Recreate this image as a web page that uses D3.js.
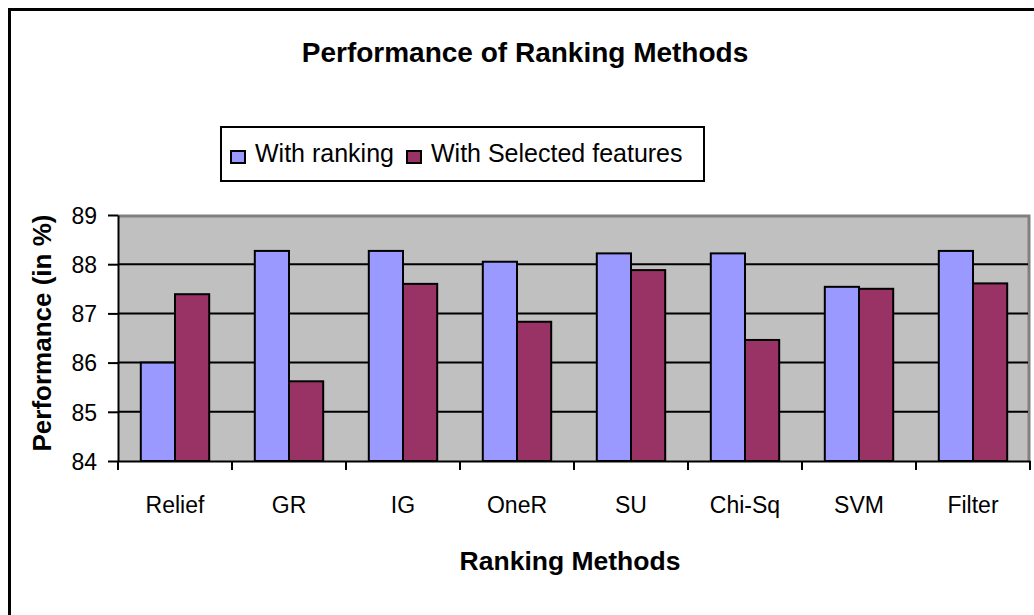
<!DOCTYPE html>
<html>
<head>
<meta charset="utf-8">
<script src="https://cdn.jsdelivr.net/npm/d3@7"></script>
<style>
body { margin: 0; background: #fff; }
text { font-family: Arial, "Liberation Sans", sans-serif; }
</style>
</head>
<body>
<div id="chart"></div>
<script>
// data
var methods = ['Relief', 'GR', 'IG', 'OneR', 'SU', 'Chi-Sq', 'SVM', 'Filter'];
var seriesNames = ['With ranking', 'With Selected features'];
var withRanking = [86.0, 88.27, 88.27, 88.05, 88.22, 88.22, 87.54, 88.27];
var withSelected = [87.39, 85.62, 87.6, 86.83, 87.88, 86.46, 87.5, 87.61];
var yTicks = [84, 85, 86, 87, 88, 89];
var colors = ['#9999FF', '#993366'];

var width = 1034, height = 615;
var plotL = 118, plotR = 1030, plotT = 215, plotB = 461;

var svg = d3.select('#chart').append('svg')
    .attr('width', width)
    .attr('height', height);

// outer chart border (runs off right / bottom)
svg.append('rect')
    .attr('x', 9.5).attr('y', 9.5)
    .attr('width', 1200).attr('height', 800)
    .attr('fill', 'white')
    .attr('stroke', 'black')
    .attr('stroke-width', 3);

var x0 = d3.scaleBand().domain(methods).range([plotL, plotR]).paddingInner(0.4).paddingOuter(0.2);
var xb = d3.scaleBand().domain(methods).range([plotL, plotR]).padding(0);
var x1 = d3.scaleBand().domain(seriesNames).range([0, x0.bandwidth()]);
var y = d3.scaleLinear().domain([84, 89]).range([plotB, plotT]);

// plot area
svg.append('rect')
    .attr('x', plotL).attr('y', plotT)
    .attr('width', plotR - plotL).attr('height', plotB - plotT)
    .attr('fill', '#C0C0C0');
svg.append('path')
    .attr('d', 'M' + plotL + ',' + (plotT + 1) + 'H' + (plotR - 1) + 'V' + plotB)
    .attr('fill', 'none')
    .attr('stroke', '#808080')
    .attr('stroke-width', 3);

// gridlines
svg.selectAll('.grid')
    .data(yTicks.filter(function(d){ return d > 84 && d < 89; }))
    .enter().append('line')
    .attr('x1', plotL).attr('x2', plotR - 2)
    .attr('y1', function(d){ return y(d); })
    .attr('y2', function(d){ return y(d); })
    .attr('stroke', 'black')
    .attr('stroke-width', 2);

// bars
var rows = methods.map(function(m, i){ return {method: m, vals: [withRanking[i], withSelected[i]]}; });
var groups = svg.selectAll('.grp').data(rows).enter().append('g')
    .attr('transform', function(d){ return 'translate(' + x0(d.method) + ',0)'; });
groups.selectAll('rect')
    .data(function(d){ return d.vals.map(function(v, j){ return {s: seriesNames[j], v: v, j: j}; }); })
    .enter().append('rect')
    .attr('x', function(d){ return x1(d.s); })
    .attr('y', function(d){ return y(d.v); })
    .attr('width', x1.bandwidth())
    .attr('height', function(d){ return plotB - y(d.v); })
    .attr('fill', function(d){ return colors[d.j]; })
    .attr('stroke', 'black')
    .attr('stroke-width', 2);

// y axis
var yAxis = svg.append('g')
    .attr('transform', 'translate(' + plotL + ',0)')
    .call(d3.axisLeft(y).tickValues(yTicks).tickFormat(d3.format('d')).tickSize(10).tickPadding(11).tickSizeOuter(0));
yAxis.select('.domain').attr('stroke-width', 2);
yAxis.selectAll('.tick line').attr('stroke-width', 2);
yAxis.selectAll('text').style('font-size', '23px').attr('fill', 'black').attr('dy', '0.36em');

// x axis
var xAxis = svg.append('g')
    .attr('transform', 'translate(0,' + plotB + ')')
    .call(d3.axisBottom(xb).tickSize(0).tickPadding(36).tickSizeOuter(0));
xAxis.select('.domain').attr('stroke-width', 2);
xAxis.selectAll('text').style('font-size', '23px').attr('fill', 'black');
svg.selectAll('.xtick')
    .data(methods.concat(['end']))
    .enter().append('line')
    .attr('x1', function(d, i){ return plotL + i * xb.step(); })
    .attr('x2', function(d, i){ return plotL + i * xb.step(); })
    .attr('y1', plotB).attr('y2', plotB + 9)
    .attr('stroke', 'black')
    .attr('stroke-width', 2);

// titles
svg.append('text')
    .attr('x', 525).attr('y', 62)
    .attr('text-anchor', 'middle')
    .style('font-size', '28px').style('font-weight', 'bold')
    .text('Performance of Ranking Methods');
svg.append('text')
    .attr('x', 570).attr('y', 570)
    .attr('text-anchor', 'middle')
    .style('font-size', '26.5px').style('font-weight', 'bold')
    .text('Ranking Methods');
svg.append('text')
    .attr('transform', 'translate(51,333) rotate(-90)')
    .attr('text-anchor', 'middle')
    .style('font-size', '26px').style('font-weight', 'bold')
    .text('Performance (in %)');

// legend
var lg = svg.append('g');
lg.append('rect')
    .attr('x', 221).attr('y', 127)
    .attr('width', 483).attr('height', 54)
    .attr('fill', 'white')
    .attr('stroke', 'black')
    .attr('stroke-width', 2);
var legendX = [231, 407];
seriesNames.forEach(function(s, i){
    lg.append('rect')
        .attr('x', legendX[i]).attr('y', 151)
        .attr('width', 14).attr('height', 12)
        .attr('fill', colors[i])
        .attr('stroke', 'black')
        .attr('stroke-width', 2);
    lg.append('text')
        .attr('x', legendX[i] + 24).attr('y', 162)
        .style('font-size', '25px')
        .text(s);
});
</script>
</body>
</html>
